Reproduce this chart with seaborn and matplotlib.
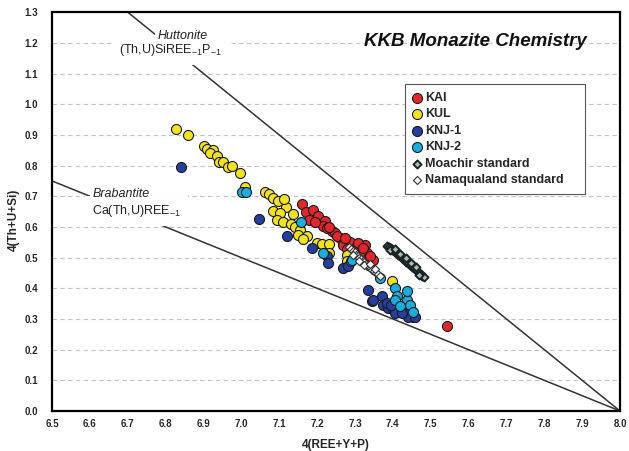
import numpy as np
import pandas as pd
import matplotlib
matplotlib.use("Agg")
import matplotlib.pyplot as plt
import seaborn as sns

# ---------------- data ----------------
kai_x = [7.159, 7.171, 7.190, 7.179, 7.203, 7.221, 7.216, 7.239, 7.247, 7.260, 7.269, 7.287,
         7.305, 7.327, 7.331, 7.318, 7.348, 7.252, 7.274, 7.309, 7.322, 7.335, 7.226, 7.279,
         7.195, 7.232, 7.296, 7.340, 7.544]
kai_y = [0.676, 0.648, 0.655, 0.624, 0.635, 0.619, 0.602, 0.586, 0.581, 0.564, 0.542, 0.550,
         0.537, 0.542, 0.515, 0.507, 0.493, 0.570, 0.564, 0.548, 0.532, 0.499, 0.598, 0.529,
         0.615, 0.600, 0.520, 0.505, 0.278]

kul_x = [6.827, 6.858, 6.902, 6.908, 6.924, 6.917, 6.936, 6.942, 6.951, 6.966, 6.975, 6.996,
         7.010, 7.062, 7.074, 7.084, 7.098, 7.118, 7.083, 7.102, 7.137, 7.093, 7.111, 7.130,
         7.142, 7.155, 7.150, 7.173, 7.164, 7.199, 7.113, 7.212, 7.232, 7.232, 7.278, 7.278,
         7.397]
kul_y = [0.918, 0.900, 0.864, 0.855, 0.851, 0.840, 0.831, 0.813, 0.811, 0.795, 0.798, 0.777,
         0.730, 0.715, 0.706, 0.695, 0.684, 0.666, 0.651, 0.646, 0.641, 0.624, 0.615, 0.611,
         0.600, 0.589, 0.575, 0.572, 0.561, 0.548, 0.692, 0.545, 0.545, 0.515, 0.510, 0.488,
         0.425]

knj1_x = [6.840, 7.047, 7.120, 7.186, 7.225, 7.230, 7.269, 7.282, 7.335, 7.344, 7.371, 7.375,
          7.388, 7.401, 7.419, 7.437, 7.454, 7.384, 7.441, 7.406, 7.459, 7.348, 7.395, 7.425]
knj1_y = [0.795, 0.626, 0.572, 0.532, 0.505, 0.483, 0.466, 0.472, 0.395, 0.357, 0.374, 0.346,
          0.336, 0.332, 0.330, 0.325, 0.306, 0.352, 0.308, 0.319, 0.306, 0.363, 0.345, 0.318]

knj2_x = [7.001, 7.012, 7.158, 7.215, 7.289, 7.291, 7.366, 7.406, 7.410, 7.437, 7.445, 7.437,
          7.406, 7.419, 7.453]
knj2_y = [0.715, 0.713, 0.615, 0.515, 0.488, 0.493, 0.434, 0.401, 0.374, 0.363, 0.346, 0.390,
          0.363, 0.341, 0.324]

moa_x = [7.385, 7.390, 7.395, 7.398, 7.402, 7.407, 7.410, 7.415, 7.418, 7.423, 7.428, 7.432,
         7.436, 7.440, 7.445, 7.450, 7.455, 7.460, 7.465, 7.470, 7.474, 7.478, 7.482, 7.392,
         7.405, 7.420, 7.435, 7.448, 7.462, 7.470]
moa_y = [0.538, 0.534, 0.531, 0.526, 0.522, 0.519, 0.514, 0.510, 0.505, 0.500, 0.496, 0.491,
         0.486, 0.482, 0.476, 0.470, 0.466, 0.460, 0.455, 0.450, 0.445, 0.440, 0.436, 0.525,
         0.528, 0.512, 0.498, 0.484, 0.468, 0.442]

nam_x = [7.285, 7.290, 7.295, 7.300, 7.302, 7.308, 7.312, 7.316, 7.320, 7.325, 7.330, 7.333,
         7.338, 7.342, 7.346, 7.350, 7.355, 7.360, 7.365, 7.296, 7.310, 7.325, 7.340, 7.352]
nam_y = [0.535, 0.528, 0.522, 0.517, 0.510, 0.505, 0.500, 0.494, 0.490, 0.485, 0.480, 0.474,
         0.470, 0.465, 0.460, 0.455, 0.450, 0.446, 0.440, 0.510, 0.490, 0.475, 0.480, 0.462]

# reference end-member lines
hutt_x = [6.7, 8.0]
hutt_y = [1.3, 0.0]
brab_x = [6.5, 8.0]
brab_y = [0.75, 0.0]

x_ticks = [6.5, 6.6, 6.7, 6.8, 6.9, 7.0, 7.1, 7.2, 7.3, 7.4, 7.5, 7.6, 7.7, 7.8, 7.9, 8.0]
y_ticks = [0.0, 0.1, 0.2, 0.3, 0.4, 0.5, 0.6, 0.7, 0.8, 0.9, 1.0, 1.1, 1.2, 1.3]

groups = [
    ("KAI", kai_x, kai_y),
    ("KUL", kul_x, kul_y),
    ("KNJ-1", knj1_x, knj1_y),
    ("KNJ-2", knj2_x, knj2_y),
    ("Moachir standard", moa_x, moa_y),
    ("Namaqualand standard", nam_x, nam_y),
]
frames = [pd.DataFrame({"x": gx, "y": gy, "group": name}) for name, gx, gy in groups]
df = pd.concat(frames, ignore_index=True)

styles = {
    "KAI": dict(color="#e4252b", marker="o", s=52, edgecolor="#1a1a1a", linewidth=0.8),
    "KUL": dict(color="#f2e31b", marker="o", s=52, edgecolor="#1a1a1a", linewidth=0.8),
    "KNJ-1": dict(color="#263f9e", marker="o", s=52, edgecolor="#1a1a1a", linewidth=0.8),
    "KNJ-2": dict(color="#19aee0", marker="o", s=52, edgecolor="#1a1a1a", linewidth=0.8),
    "Moachir standard": dict(color="#a9b8b8", marker="D", s=17, edgecolor="#1a2222", linewidth=1.4),
    "Namaqualand standard": dict(color="#ffffff", marker="D", s=17, edgecolor="#333333", linewidth=0.8),
}

# ---------------- plot ----------------
sns.set_theme(style="white")
plt.rcParams["font.family"] = ["Liberation Sans", "DejaVu Sans"]
plt.rcParams["mathtext.fontset"] = "custom"
plt.rcParams["mathtext.rm"] = "Liberation Sans"
plt.rcParams["mathtext.it"] = "Liberation Sans:italic"

fig = plt.figure(figsize=(6.29, 4.51), dpi=100)
ax = fig.add_axes([0.0827, 0.0887, 0.9030, 0.8843])

for yt in y_ticks[1:-1]:
    ax.axhline(yt, color="#c4c4c4", linestyle=(0, (4, 3)), linewidth=0.8, zorder=0)

ax.plot(hutt_x, hutt_y, color="#333333", linewidth=1.1, zorder=1)
ax.plot(brab_x, brab_y, color="#333333", linewidth=1.1, zorder=1)

for name, _, _ in groups:
    sub = df[df["group"] == name]
    sns.scatterplot(data=sub, x="x", y="y", ax=ax, label=name, zorder=3, **styles[name])

ax.set_xlim(6.5, 8.0)
ax.set_ylim(0.0, 1.3)
ax.set_xticks(x_ticks)
ax.set_yticks(y_ticks)
ax.set_xticklabels([f"{v:.1f}" for v in x_ticks], fontsize=7, fontweight="bold")
ax.set_yticklabels([f"{v:.1f}" for v in y_ticks], fontsize=7, fontweight="bold")
ax.tick_params(axis="x", length=0, pad=6)
ax.tick_params(axis="y", length=0, pad=10)
ax.set_xlabel("4(REE+Y+P)", fontsize=8.5, fontweight="bold", labelpad=7)
ax.set_ylabel("4(Th+U+Si)", fontsize=8.5, fontweight="bold")
ax.yaxis.set_label_coords(-0.056, 0.48)
for sp in ax.spines.values():
    sp.set_color("black")
    sp.set_linewidth(1.6)

ax.text(0.745, 0.927, "KKB Monazite Chemistry", transform=ax.transAxes, ha="center",
        va="center", fontsize=13.5, fontweight="bold", style="italic", color="#111111")

big_box = dict(facecolor="white", edgecolor="none", pad=5.0)
small_box = dict(facecolor="white", edgecolor="none", pad=1.5)
ax.text(6.812, 1.176, r"(Th,U)SiREE$_{-1}$P$_{-1}$", ha="center", va="center", fontsize=9,
        color="#222222", bbox=big_box, zorder=2)
ax.text(6.845, 1.222, "Huttonite", ha="center", va="center", fontsize=9, style="italic",
        color="#222222", bbox=small_box, zorder=2.2)
ax.text(6.606, 0.652, r"Ca(Th,U)REE$_{-1}$", ha="left", va="center", fontsize=9,
        color="#222222", bbox=big_box, zorder=2)
ax.text(6.606, 0.706, "Brabantite", ha="left", va="center", fontsize=9, style="italic",
        color="#222222", bbox=small_box, zorder=2.2)

leg = ax.legend(loc="upper left", bbox_to_anchor=(0.621, 0.555, 0.317, 0.264), mode="expand",
                fontsize=9, frameon=True, fancybox=False, edgecolor="#555555", framealpha=1.0,
                handlelength=0.7, handletextpad=0.3, labelspacing=0.36, borderpad=0.6,
                borderaxespad=0)
leg.get_frame().set_linewidth(0.8)
for t in leg.get_texts():
    t.set_fontweight("bold")

fig.savefig("out.png", dpi=100)
